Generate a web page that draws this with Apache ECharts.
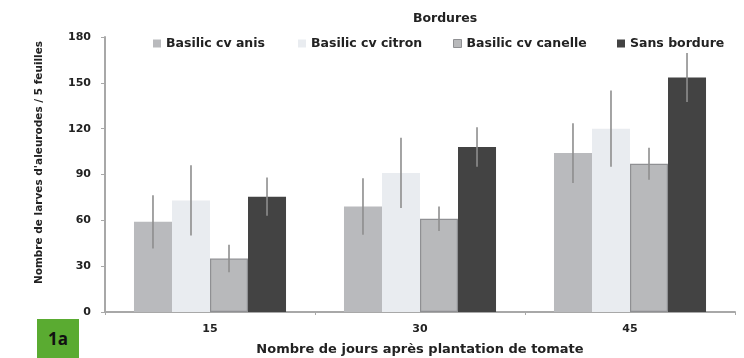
<!DOCTYPE html>
<html><head><meta charset="utf-8">
<script src="https://cdn.jsdelivr.net/npm/echarts@6/dist/echarts.min.js"></script>
<style>html,body{margin:0;padding:0;background:#fff}#c{width:744px;height:358px;position:relative}
#tag{position:absolute;left:37px;top:319px;width:42px;height:39px;background:#5aab31;color:#111;font:bold 17px "Open Sans",sans-serif;line-height:39px;text-align:center}</style>
</head><body><div id="c"></div><div id="tag">1a</div>
<script>
var categories = ['15', '30', '45'];
var seriesNames = ['Basilic cv anis', 'Basilic cv citron', 'Basilic cv canelle', 'Sans bordure'];
var anis = [59, 69, 104];
var anisErr = [17.5, 18.5, 19.5];
var citron = [73, 91, 120];
var citronErr = [23, 23, 25];
var canelle = [35, 61, 97];
var canelleErr = [9, 8, 10.5];
var sans = [75.5, 108, 153.5];
var sansErr = [12.5, 13, 16];
var yTicks = [0, 30, 60, 90, 120, 150, 180];

var values = [anis, citron, canelle, sans];
var errs = [anisErr, citronErr, canelleErr, sansErr];
var colors = ['#b9babd', '#e9ecf0', '#b8b9bb', '#434343'];
var borders = ['#b9babd', '#e9ecf0', '#8f9093', '#434343'];
var legendLeft = [148, 293, 448, 612];
var gapPct = 0.276;

var chart = echarts.init(document.getElementById('c'), null, {renderer: 'canvas'});
var series = [];
values.forEach(function (v, i) {
  series.push({
    name: seriesNames[i], type: 'bar', data: v,
    barGap: '0%', barCategoryGap: (gapPct * 100) + '%',
    itemStyle: {color: colors[i], borderColor: borders[i], borderWidth: i === 2 ? 1.2 : 0},
    z: 2
  });
});
values.forEach(function (v, i) {
  series.push({
    type: 'custom', silent: true, z: 5,
    data: v.map(function (val, k) { return [k, val - errs[i][k], val + errs[i][k]]; }),
    renderItem: function (params, api) {
      var bw = api.size([1, 0])[0];
      var w = bw * (1 - gapPct) / 4;
      var off = (i - 1.5) * w;
      var lo = api.coord([api.value(0), api.value(1)]);
      var hi = api.coord([api.value(0), api.value(2)]);
      var x = lo[0] + off;
      return {type: 'line', shape: {x1: x, y1: lo[1], x2: x, y2: hi[1]},
        style: {stroke: '#8e8e8e', lineWidth: 1.6}};
    }
  });
});

var legends = seriesNames.map(function (n, i) {
  return {
    data: [{name: n, itemStyle: {color: colors[i], borderColor: i === 2 ? '#8f9093' : colors[i], borderWidth: i === 2 ? 1 : 0}}],
    left: legendLeft[i], top: 32, itemWidth: 8, itemHeight: 8, itemGap: 0, icon: 'rect',
    textStyle: {fontSize: 12.5, fontWeight: 'bold', color: '#222'}
  };
});

chart.setOption({
  animation: false,
  textStyle: {fontFamily: 'DejaVu Sans, sans-serif'},
  title: {text: 'Bordures', left: 440, top: 7, textAlign: 'center',
    textStyle: {fontSize: 12.5, fontWeight: 'bold', color: '#222'}},
  legend: legends,
  grid: {left: 105, right: 9, top: 37, bottom: 46, outerBoundsMode: 'none'},
  xAxis: {
    type: 'category', data: categories,
    name: 'Nombre de jours après plantation de tomate', nameLocation: 'middle', nameGap: 31,
    nameTextStyle: {fontSize: 13, fontWeight: 'bold', color: '#222'},
    axisLine: {lineStyle: {color: '#a8a8a8', width: 2}},
    axisTick: {show: true, length: 3, lineStyle: {color: '#a8a8a8'}},
    axisLabel: {fontSize: 11, fontWeight: 'bold', color: '#222', margin: 12}
  },
  yAxis: {
    type: 'value', min: 0, max: 180, interval: 30,
    name: "Nombre de larves d'aleurodes / 5 feuilles", nameLocation: 'middle', nameGap: 60,
    nameTextStyle: {fontSize: 10.5, fontWeight: 'bold', color: '#222', padding: [0, 0, 0, 24]},
    axisLine: {show: true, lineStyle: {color: '#a8a8a8', width: 2}},
    axisTick: {show: true, length: 4, lineStyle: {color: '#a8a8a8'}},
    splitLine: {show: false},
    axisLabel: {fontSize: 11, fontWeight: 'bold', color: '#222', margin: 14,
      formatter: function (v) { return yTicks.indexOf(v) >= 0 ? String(v) : ''; }}
  },
  series: series
});
</script></body></html>
